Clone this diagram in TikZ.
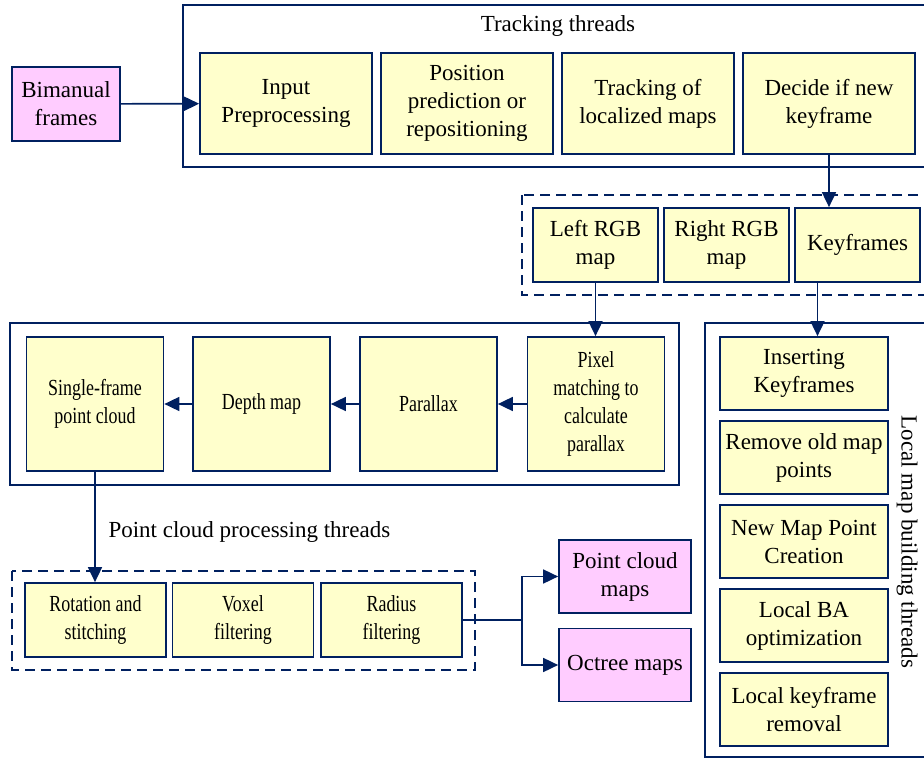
\documentclass[tikz,border=0pt]{standalone}
\usepackage{fontspec}
\setmainfont{Liberation Serif}
\newfontfamily\narrowserif[FakeStretch=0.78]{Liberation Serif}
\usetikzlibrary{positioning,arrows.meta}
\definecolor{navy}{RGB}{0,32,96}
\definecolor{boxyellow}{RGB}{255,255,204}
\definecolor{boxpink}{RGB}{255,204,255}

\begin{document}
\begin{tikzpicture}[x=1pt, y=-1pt,
  proc/.style={draw=navy, fill=boxyellow, line width=1.7pt, align=center,
    inner sep=2pt, text=black, font=\fontsize{23}{28}\selectfont},
  narrowproc/.style={proc, font=\fontsize{23}{28}\selectfont\narrowserif},
  io/.style={proc, fill=boxpink},
  frame/.style={draw=navy, line width=1.7pt},
  dframe/.style={frame, dash pattern=on 10pt off 6pt},
  flow/.style={draw=navy, line width=1.7pt, -{Triangle[length=15pt,width=14pt]}},
  lbl/.style={font=\fontsize{23}{28}\selectfont, text=black},
]
  \clip (0,0) rectangle (924,760);

  % Thread frames
  \draw[frame] (183,5) rectangle (940,167);
  \draw[dframe] (522,195) rectangle (940,295);
  \draw[frame] (10,323) rectangle (679,485);
  \draw[dframe] (12,571) rectangle (475,670);
  \draw[frame] (705,323) rectangle (940,757);

  \node[lbl] (trklbl) at (558,26) {Tracking threads};
  \node[lbl, anchor=west] (pclbl) at (105,532) {Point cloud processing threads};
  \node[lbl, rotate=-90] (locallbl) at (907,542) {Local map building threads};

  % Input
  \node[io, minimum width=108, minimum height=74] (frames) at (66,104)
    {Bimanual\\frames};

  % Tracking threads
  \node[proc, minimum width=172, minimum height=101] (inp) at (286,103.5)
    {Input\\Preprocessing};
  \node[proc, minimum width=172, minimum height=101] (pos) at (467,103.5)
    {Position\\prediction or\\repositioning};
  \node[proc, minimum width=172, minimum height=101] (track) at (648,103.5)
    {Tracking of\\localized maps};
  \node[proc, minimum width=172, minimum height=101] (decide) at (829,103.5)
    {Decide if new\\keyframe};

  % Maps and keyframes
  \node[proc, minimum width=125, minimum height=74] (leftrgb) at (595.5,245)
    {Left RGB\\map};
  \node[proc, minimum width=125, minimum height=74] (rightrgb) at (726.5,245)
    {Right RGB\\map};
  \node[proc, minimum width=125, minimum height=74] (keyf) at (857.5,245)
    {Keyframes};

  % Disparity
  \node[narrowproc, minimum width=137, minimum height=134] (single) at (95,404)
    {Single-frame\\point cloud};
  \node[narrowproc, minimum width=137, minimum height=134] (depth) at (261.5,404)
    {Depth map};
  \node[narrowproc, minimum width=137, minimum height=134] (parallax) at (428.5,404)
    {Parallax};
  \node[narrowproc, minimum width=137, minimum height=134] (pixel) at (596,404)
    {Pixel\\matching to\\calculate\\parallax};

  % Point cloud processing
  \node[narrowproc, minimum width=141, minimum height=74] (rot) at (95.5,620)
    {Rotation and\\stitching};
  \node[narrowproc, minimum width=141, minimum height=74] (voxel) at (243,620)
    {Voxel\\filtering};
  \node[narrowproc, minimum width=141, minimum height=74] (radius) at (391.5,620)
    {Radius\\filtering};

  \node[io, minimum width=132, minimum height=73] (pcmap) at (625,576.5)
    {Point cloud\\maps};
  \node[io, minimum width=132, minimum height=73] (octree) at (625,665)
    {Octree maps};

  % Local map building
  \node[proc, minimum width=168, minimum height=73] (insert) at (804,373.5)
    {Inserting\\Keyframes};
  \node[proc, minimum width=168, minimum height=73] (remove) at (804,457.5)
    {Remove old map\\points};
  \node[proc, minimum width=168, minimum height=73] (newpt) at (804,541.5)
    {New Map Point\\Creation};
  \node[proc, minimum width=168, minimum height=73] (localba) at (804,625.5)
    {Local BA\\optimization};
  \node[proc, minimum width=168, minimum height=73] (kfremove) at (804,709.5)
    {Local keyframe\\removal};

  % Connectors
  \draw[flow] (frames) -- (inp);
  \draw[flow] (decide.south) -- (decide.south |- keyf.north);
  \draw[flow] (leftrgb.south) -- (leftrgb.south |- pixel.north);
  \draw[flow] ([xshift=-40pt]keyf.south) -- ([xshift=-40pt]keyf.south |- insert.north);
  \draw[flow] (pixel) -- (parallax);
  \draw[flow] (parallax) -- (depth);
  \draw[flow] (depth) -- (single);
  \draw[flow] (single.south) -- (single.south |- rot.north);
  \draw[navy, line width=1.7pt] (radius.east) -- ++(59,0) coordinate (split);
  \draw[flow] (split) |- (pcmap);
  \draw[flow] (split) |- (octree);
\end{tikzpicture}
\end{document}
